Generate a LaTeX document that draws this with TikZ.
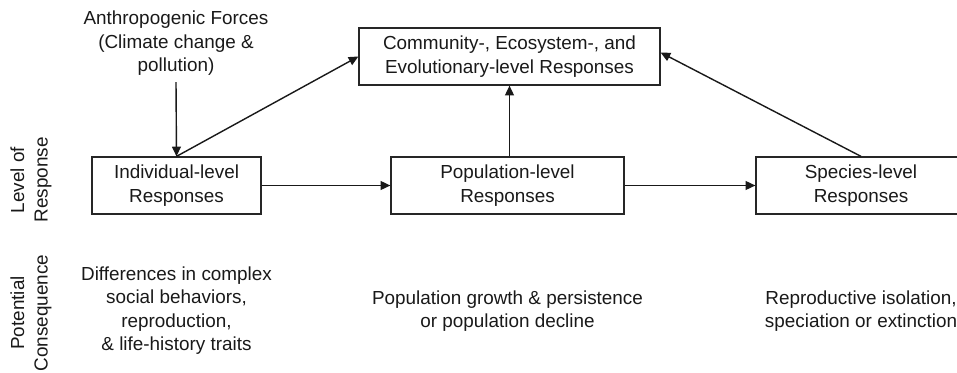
\documentclass[tikz,border=0pt]{standalone}
\usepackage{fontspec}
\setmainfont{Liberation Sans}
\usetikzlibrary{arrows.meta}
\begin{document}
\begin{tikzpicture}[
    every node/.style={font=\fontsize{10.75pt}{13.4pt}\selectfont, text=black!90, align=center},
    respbox/.style={draw=black!85, line width=0.7pt, minimum height=1.14cm, inner sep=0pt},
    link/.style={draw=black!90, line width=0.8pt, -{Triangle[length=5.5pt,width=5pt]}}
  ]
            \clip (0,0) rectangle (19.14,7.44);

            \node (anthro) at (3.52,6.57) {Anthropogenic Forces\\(Climate change \&\\pollution)};
            \node[respbox, minimum width=6.02cm] (comm) at (10.19,6.31) {Community-, Ecosystem-, and\\Evolutionary-level Responses};

            \node[respbox, minimum width=3.38cm] (indiv) at (3.53,3.73) {Individual-level\\Responses};
            \node[respbox, minimum width=4.66cm] (pop) at (10.15,3.73) {Population-level\\Responses};
            \node[respbox, minimum width=4.2cm] (species) at (17.22,3.73) {Species-level\\Responses};

            \node[rotate=90] (level) at (0.62,3.84) {Level of\\Response};
            \node[rotate=90] (conseq) at (0.62,1.18) {Potential\\Consequence};

            \node (indivout) at (3.53,1.23) {Differences in complex\\social behaviors,\\reproduction,\\\& life-history traits};
            \node (popout) at (10.15,1.22) {Population growth \& persistence\\or population decline};
            \node (speciesout) at (17.22,1.22) {Reproductive isolation,\\speciation or extinction};

            \path[link] (anthro.south) -- (indiv.north);
            \path[link] (indiv.north) -- (comm.west);
            \path[link] (comm.south |- pop.north) -- (comm.south);
            \path[link] (species.north) -- ([yshift=0.08cm]comm.east);
            \path[link] (indiv.east) -- (pop.west);
            \path[link] (pop.east) -- (species.west);

\end{tikzpicture}
\end{document}
